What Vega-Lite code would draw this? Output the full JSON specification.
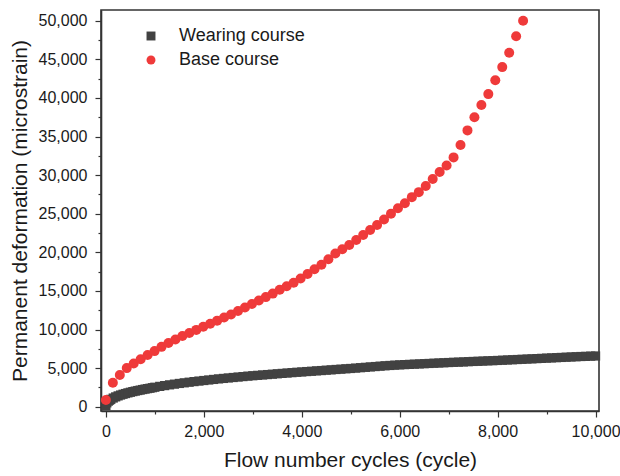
{
  "$schema": "https://vega.github.io/schema/vega-lite/v6.json",
  "width": 498,
  "height": 401,
  "autosize": {"type": "none"},
  "padding": {"left": 101, "top": 10, "right": 21, "bottom": 65},
  "background": "white",
  "config": {
    "view": {"stroke": "#333333", "strokeWidth": 1.6},
    "font": "Liberation Sans",
    "axis": {
      "domainColor": "#333333",
      "domainWidth": 1.6,
      "tickColor": "#333333",
      "tickWidth": 1.2,
      "labelFont": "Liberation Sans",
      "labelFontSize": 16,
      "labelColor": "#1a1a1a",
      "titleFont": "Liberation Sans",
      "titleFontSize": 21,
      "titleFontWeight": "normal",
      "titleColor": "#1a1a1a",
      "grid": false
    }
  },
  "datasets": {
    "wearing": [
      {"cycle": 0, "strain": 150}, {"cycle": 20, "strain": 500}, {"cycle": 50, "strain": 720},
      {"cycle": 75, "strain": 840}, {"cycle": 100, "strain": 950}, {"cycle": 150, "strain": 1120},
      {"cycle": 200, "strain": 1270}, {"cycle": 250, "strain": 1400}, {"cycle": 300, "strain": 1510},
      {"cycle": 350, "strain": 1610}, {"cycle": 400, "strain": 1700}, {"cycle": 450, "strain": 1790},
      {"cycle": 500, "strain": 1870}, {"cycle": 550, "strain": 1950}, {"cycle": 600, "strain": 2020},
      {"cycle": 650, "strain": 2090}, {"cycle": 700, "strain": 2150}, {"cycle": 750, "strain": 2220},
      {"cycle": 800, "strain": 2280}, {"cycle": 850, "strain": 2340}, {"cycle": 900, "strain": 2390},
      {"cycle": 950, "strain": 2460},
      {"cycle": 1000, "strain": 2520}, {"cycle": 1100, "strain": 2630}, {"cycle": 1200, "strain": 2730},
      {"cycle": 1300, "strain": 2830}, {"cycle": 1400, "strain": 2920}, {"cycle": 1500, "strain": 3010},
      {"cycle": 1600, "strain": 3090}, {"cycle": 1700, "strain": 3170}, {"cycle": 1800, "strain": 3250},
      {"cycle": 1900, "strain": 3320}, {"cycle": 2000, "strain": 3390}, {"cycle": 2100, "strain": 3460},
      {"cycle": 2200, "strain": 3530}, {"cycle": 2300, "strain": 3600}, {"cycle": 2400, "strain": 3660},
      {"cycle": 2500, "strain": 3720}, {"cycle": 2600, "strain": 3780}, {"cycle": 2700, "strain": 3840},
      {"cycle": 2800, "strain": 3900}, {"cycle": 2900, "strain": 3960}, {"cycle": 3000, "strain": 4010},
      {"cycle": 3100, "strain": 4060}, {"cycle": 3200, "strain": 4110}, {"cycle": 3300, "strain": 4160},
      {"cycle": 3400, "strain": 4210}, {"cycle": 3500, "strain": 4260}, {"cycle": 3600, "strain": 4310},
      {"cycle": 3700, "strain": 4360}, {"cycle": 3800, "strain": 4410}, {"cycle": 3900, "strain": 4460},
      {"cycle": 4000, "strain": 4500}, {"cycle": 4100, "strain": 4550}, {"cycle": 4200, "strain": 4590},
      {"cycle": 4300, "strain": 4640}, {"cycle": 4400, "strain": 4680}, {"cycle": 4500, "strain": 4730},
      {"cycle": 4600, "strain": 4770}, {"cycle": 4700, "strain": 4820}, {"cycle": 4800, "strain": 4860},
      {"cycle": 4900, "strain": 4910}, {"cycle": 5000, "strain": 4950}, {"cycle": 5100, "strain": 5000},
      {"cycle": 5200, "strain": 5050}, {"cycle": 5300, "strain": 5100}, {"cycle": 5400, "strain": 5150},
      {"cycle": 5500, "strain": 5200}, {"cycle": 5600, "strain": 5250}, {"cycle": 5700, "strain": 5300},
      {"cycle": 5800, "strain": 5340}, {"cycle": 5900, "strain": 5380}, {"cycle": 6000, "strain": 5420},
      {"cycle": 6100, "strain": 5450}, {"cycle": 6200, "strain": 5480}, {"cycle": 6300, "strain": 5510},
      {"cycle": 6400, "strain": 5540}, {"cycle": 6500, "strain": 5570}, {"cycle": 6600, "strain": 5600},
      {"cycle": 6700, "strain": 5630}, {"cycle": 6800, "strain": 5660}, {"cycle": 6900, "strain": 5690},
      {"cycle": 7000, "strain": 5720}, {"cycle": 7100, "strain": 5750}, {"cycle": 7200, "strain": 5770},
      {"cycle": 7300, "strain": 5800}, {"cycle": 7400, "strain": 5830}, {"cycle": 7500, "strain": 5860},
      {"cycle": 7600, "strain": 5880}, {"cycle": 7700, "strain": 5910}, {"cycle": 7800, "strain": 5940},
      {"cycle": 7900, "strain": 5960}, {"cycle": 8000, "strain": 5990}, {"cycle": 8100, "strain": 6020},
      {"cycle": 8200, "strain": 6050}, {"cycle": 8300, "strain": 6080}, {"cycle": 8400, "strain": 6110},
      {"cycle": 8500, "strain": 6140}, {"cycle": 8600, "strain": 6170}, {"cycle": 8700, "strain": 6200},
      {"cycle": 8800, "strain": 6230}, {"cycle": 8900, "strain": 6260}, {"cycle": 9000, "strain": 6290},
      {"cycle": 9100, "strain": 6320}, {"cycle": 9200, "strain": 6350}, {"cycle": 9300, "strain": 6380},
      {"cycle": 9400, "strain": 6410}, {"cycle": 9500, "strain": 6440}, {"cycle": 9600, "strain": 6470},
      {"cycle": 9700, "strain": 6500}, {"cycle": 9800, "strain": 6520}, {"cycle": 9900, "strain": 6550},
      {"cycle": 10000, "strain": 6570}
    ],
    "base": [
      {"cycle": 0, "strain": 870}, {"cycle": 142, "strain": 3100}, {"cycle": 284, "strain": 4100},
      {"cycle": 426, "strain": 5000}, {"cycle": 568, "strain": 5600}, {"cycle": 710, "strain": 6150},
      {"cycle": 852, "strain": 6700}, {"cycle": 994, "strain": 7200}, {"cycle": 1136, "strain": 7750},
      {"cycle": 1278, "strain": 8250}, {"cycle": 1420, "strain": 8700}, {"cycle": 1562, "strain": 9150},
      {"cycle": 1704, "strain": 9550}, {"cycle": 1846, "strain": 9950}, {"cycle": 1988, "strain": 10350},
      {"cycle": 2130, "strain": 10750}, {"cycle": 2272, "strain": 11150}, {"cycle": 2414, "strain": 11550},
      {"cycle": 2556, "strain": 11950}, {"cycle": 2698, "strain": 12400}, {"cycle": 2840, "strain": 12850},
      {"cycle": 2982, "strain": 13300}, {"cycle": 3124, "strain": 13750}, {"cycle": 3266, "strain": 14200},
      {"cycle": 3408, "strain": 14650}, {"cycle": 3550, "strain": 15150}, {"cycle": 3692, "strain": 15600},
      {"cycle": 3834, "strain": 16050}, {"cycle": 3976, "strain": 16600}, {"cycle": 4118, "strain": 17200},
      {"cycle": 4260, "strain": 17800}, {"cycle": 4402, "strain": 18400}, {"cycle": 4544, "strain": 19100},
      {"cycle": 4686, "strain": 19850}, {"cycle": 4828, "strain": 20400}, {"cycle": 4970, "strain": 20950},
      {"cycle": 5112, "strain": 21600}, {"cycle": 5254, "strain": 22250}, {"cycle": 5396, "strain": 22900},
      {"cycle": 5538, "strain": 23550}, {"cycle": 5680, "strain": 24250}, {"cycle": 5822, "strain": 25000},
      {"cycle": 5964, "strain": 25700}, {"cycle": 6106, "strain": 26350}, {"cycle": 6248, "strain": 27150},
      {"cycle": 6390, "strain": 27800}, {"cycle": 6532, "strain": 28600}, {"cycle": 6674, "strain": 29500},
      {"cycle": 6816, "strain": 30400}, {"cycle": 6958, "strain": 31250}, {"cycle": 7100, "strain": 32300},
      {"cycle": 7242, "strain": 33900}, {"cycle": 7384, "strain": 35800}, {"cycle": 7526, "strain": 37500},
      {"cycle": 7668, "strain": 39100}, {"cycle": 7810, "strain": 40500}, {"cycle": 7952, "strain": 42300},
      {"cycle": 8094, "strain": 44000}, {"cycle": 8236, "strain": 45850}, {"cycle": 8378, "strain": 48000},
      {"cycle": 8520, "strain": 50000}
    ]
  },
  "encoding": {
    "x": {
      "field": "cycle",
      "type": "quantitative",
      "scale": {"domain": [-100, 10070], "nice": false, "zero": false},
      "axis": {
        "title": "Flow number cycles (cycle)",
        "values": [0, 1000, 2000, 3000, 4000, 5000, 6000, 7000, 8000, 9000, 10000],
        "labelExpr": "datum.value % 2000 === 0 ? format(datum.value, ',') : ''",
        "tickSize": {"condition": {"test": "datum.value % 2000 === 0", "value": 6}, "value": 3},
        "labelPadding": 6,
        "labelFlush": false,
        "titlePadding": 10
      }
    },
    "y": {
      "field": "strain",
      "type": "quantitative",
      "scale": {"domain": [-560, 51400], "nice": false, "zero": false},
      "axis": {
        "title": "Permanent deformation (microstrain)",
        "values": [0, 2500, 5000, 7500, 10000, 12500, 15000, 17500, 20000, 22500, 25000, 27500, 30000, 32500, 35000, 37500, 40000, 42500, 45000, 47500, 50000],
        "labelExpr": "datum.value % 5000 === 0 ? format(datum.value, ',') : ''",
        "tickSize": {"condition": {"test": "datum.value % 5000 === 0", "value": 6}, "value": 3},
        "labelPadding": 8,
        "labelFlush": false,
        "titlePadding": 8
      }
    },
    "color": {
      "type": "nominal",
      "scale": {"domain": ["Wearing course", "Base course"], "range": ["#424242", "#ef3a3a"]},
      "legend": {
        "title": null,
        "orient": "none",
        "legendX": 41,
        "legendY": 17,
        "labelFont": "Liberation Sans",
        "labelFontSize": 18,
        "labelColor": "#1a1a1a",
        "symbolSize": 80,
        "symbolStrokeWidth": 0,
        "labelOffset": 19,
        "rowPadding": 6,
        "padding": 0
      }
    },
    "shape": {
      "type": "nominal",
      "scale": {"domain": ["Wearing course", "Base course"], "range": ["square", "circle"]},
      "legend": null
    }
  },
  "layer": [
    {
      "data": {"name": "wearing"},
      "mark": {"type": "point", "filled": true, "size": 85, "opacity": 1, "strokeWidth": 0},
      "encoding": {
        "color": {"datum": "Wearing course"},
        "shape": {"datum": "Wearing course"}
      }
    },
    {
      "data": {"name": "base"},
      "mark": {"type": "point", "filled": true, "size": 100, "opacity": 1, "strokeWidth": 0},
      "encoding": {
        "color": {"datum": "Base course"},
        "shape": {"datum": "Base course"}
      }
    }
  ]
}
